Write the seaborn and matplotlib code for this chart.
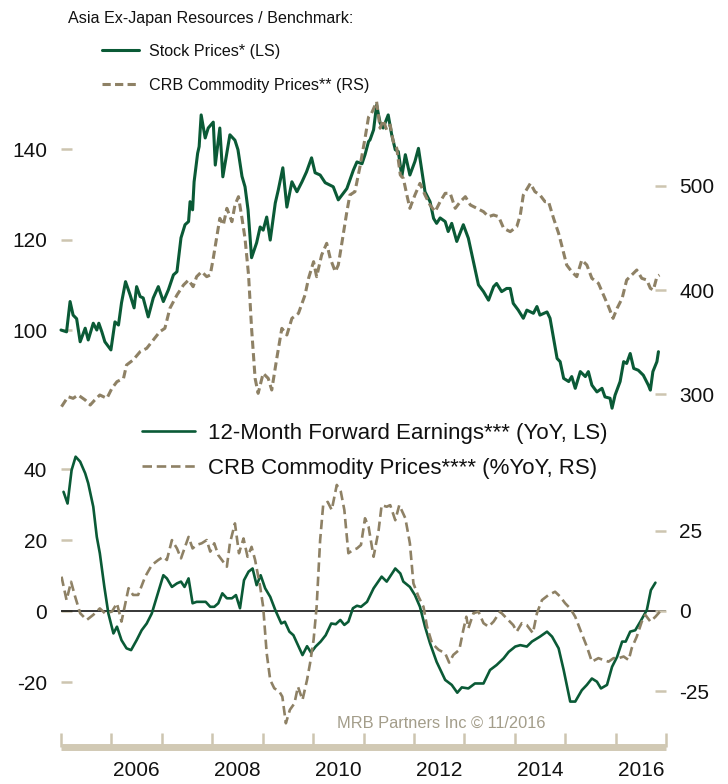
import numpy as np
import pandas as pd
import seaborn as sns
import matplotlib.pyplot as plt
from matplotlib.font_manager import FontProperties

# ---------------- data ----------------
stock_years = [2005.00, 2005.11, 2005.18, 2005.24, 2005.31, 2005.38, 2005.48, 2005.54, 2005.64, 2005.71,
               2005.75, 2005.81, 2005.87, 2005.99, 2006.07, 2006.14, 2006.20, 2006.28, 2006.37, 2006.45,
               2006.50, 2006.57, 2006.63, 2006.73, 2006.83, 2006.93, 2007.03, 2007.13, 2007.23, 2007.30,
               2007.38, 2007.46, 2007.53, 2007.56, 2007.61, 2007.64, 2007.71, 2007.74, 2007.78, 2007.86,
               2007.92, 2008.02, 2008.06, 2008.15, 2008.21, 2008.35, 2008.45, 2008.51, 2008.59, 2008.65,
               2008.71, 2008.78, 2008.88, 2008.95, 2009.01, 2009.08, 2009.15, 2009.25, 2009.31, 2009.40,
               2009.48, 2009.58, 2009.68, 2009.78, 2009.87, 2009.97, 2010.04, 2010.14, 2010.24, 2010.40,
               2010.50, 2010.67, 2010.80, 2010.87, 2010.97, 2011.03, 2011.10, 2011.13, 2011.20, 2011.26,
               2011.33, 2011.39, 2011.49, 2011.56, 2011.63, 2011.69, 2011.76, 2011.83, 2011.92, 2012.02,
               2012.09, 2012.17, 2012.22, 2012.32, 2012.39, 2012.45, 2012.52, 2012.62, 2012.68, 2012.75,
               2012.85, 2012.98, 2013.08, 2013.18, 2013.28, 2013.38, 2013.48, 2013.58, 2013.64, 2013.74,
               2013.84, 2013.91, 2013.97, 2014.07, 2014.17, 2014.24, 2014.37, 2014.44, 2014.50, 2014.64,
               2014.70, 2014.77, 2014.84, 2014.90, 2014.97, 2015.07, 2015.13, 2015.20, 2015.30, 2015.40,
               2015.46, 2015.53, 2015.63, 2015.73, 2015.79, 2015.89, 2015.93, 2015.99, 2016.09, 2016.16,
               2016.22, 2016.29, 2016.36, 2016.45, 2016.55, 2016.65, 2016.69, 2016.74, 2016.79, 2016.82,
               2016.85]
stock_vals = [100.0, 99.6, 106.3, 103.3, 102.5, 97.4, 100.4, 97.8, 101.5, 100.0,
              101.5, 99.6, 97.4, 95.6, 101.8, 101.1, 106.0, 110.7, 107.8, 104.9,
              109.6, 107.4, 107.1, 102.9, 107.1, 109.6, 106.3, 108.9, 112.2, 112.9,
              120.4, 123.3, 124.0, 128.4, 126.6, 132.8, 139.1, 140.6, 147.6, 142.5,
              144.7, 146.0, 136.5, 144.7, 133.9, 143.2, 142.0, 139.9, 134.0, 131.7,
              126.6, 116.0, 119.3, 122.8, 122.1, 125.0, 119.9, 128.1, 131.0, 135.9,
              127.2, 132.8, 130.6, 132.8, 135.0, 138.1, 134.8, 134.3, 132.6, 131.7,
              128.8, 131.3, 135.4, 137.2, 136.8, 138.8, 141.7, 142.1, 144.3, 149.8,
              145.8, 144.7, 147.6, 143.2, 139.9, 139.5, 134.0, 138.8, 134.3, 137.3,
              140.2, 134.3, 130.6, 128.4, 124.7, 123.6, 124.8, 124.0, 121.8, 123.6,
              119.6, 123.3, 120.3, 115.1, 110.0, 108.5, 106.6, 109.6, 110.3, 108.5,
              109.2, 109.2, 105.9, 104.4, 102.6, 104.4, 103.7, 105.2, 103.3, 104.0,
              102.6, 98.2, 93.7, 93.0, 89.3, 88.6, 89.7, 87.1, 90.8, 89.7,
              90.8, 87.8, 86.3, 87.1, 85.2, 84.9, 82.7, 85.6, 88.6, 93.0,
              92.6, 94.8, 91.5, 91.1, 90.0, 87.8, 86.7, 90.8, 92.2, 93.0,
              95.2]

crb_years = [2005.01, 2005.14, 2005.24, 2005.34, 2005.48, 2005.58, 2005.67, 2005.77, 2005.91, 2006.01,
             2006.11, 2006.24, 2006.30, 2006.43, 2006.57, 2006.70, 2006.83, 2006.96, 2007.06, 2007.16,
             2007.30, 2007.43, 2007.53, 2007.62, 2007.69, 2007.79, 2007.89, 2007.96, 2008.02, 2008.15,
             2008.22, 2008.29, 2008.39, 2008.45, 2008.52, 2008.59, 2008.65, 2008.72, 2008.78, 2008.85,
             2008.91, 2009.01, 2009.11, 2009.18, 2009.28, 2009.38, 2009.48, 2009.58, 2009.71, 2009.84,
             2009.91, 2010.01, 2010.07, 2010.17, 2010.27, 2010.34, 2010.44, 2010.50, 2010.57, 2010.67,
             2010.73, 2010.83, 2010.93, 2011.03, 2011.10, 2011.16, 2011.26, 2011.33, 2011.39, 2011.46,
             2011.53, 2011.59, 2011.66, 2011.73, 2011.79, 2011.86, 2011.92, 2012.02, 2012.12, 2012.22,
             2012.32, 2012.42, 2012.52, 2012.62, 2012.72, 2012.82, 2012.92, 2013.02, 2013.12, 2013.25,
             2013.38, 2013.48, 2013.58, 2013.68, 2013.78, 2013.91, 2014.04, 2014.11, 2014.17, 2014.31,
             2014.40, 2014.50, 2014.60, 2014.67, 2014.77, 2014.87, 2014.93, 2015.03, 2015.13, 2015.23,
             2015.33, 2015.43, 2015.53, 2015.66, 2015.76, 2015.86, 2015.95, 2016.03, 2016.13, 2016.22,
             2016.32, 2016.42, 2016.52, 2016.62, 2016.69, 2016.75, 2016.82, 2016.87]
crb_vals = [288.0, 297.6, 296.0, 299.2, 294.4, 289.6, 294.4, 299.2, 296.0, 305.6,
            312.0, 315.2, 328.0, 332.8, 340.8, 344.0, 352.0, 360.0, 363.2, 382.4,
            395.2, 404.8, 409.6, 403.2, 412.8, 417.6, 412.8, 414.4, 430.4, 468.8,
            462.4, 478.4, 465.6, 481.6, 489.6, 468.8, 449.6, 414.4, 363.2, 315.2,
            300.8, 320.0, 315.2, 304.0, 334.4, 363.2, 356.8, 372.8, 377.6, 395.2,
            411.2, 427.2, 412.8, 433.6, 444.8, 430.4, 417.6, 424.0, 444.8, 475.2,
            491.2, 494.4, 518.4, 545.6, 566.0, 569.7, 580.8, 555.3, 563.2, 553.6,
            558.4, 542.4, 536.0, 510.4, 507.2, 491.2, 478.4, 491.2, 502.4, 491.2,
            481.6, 475.2, 484.8, 492.8, 492.8, 478.4, 484.8, 489.6, 481.6, 478.4,
            475.2, 470.4, 472.0, 470.4, 459.2, 456.0, 460.8, 472.0, 491.2, 502.4,
            494.4, 491.2, 484.8, 484.8, 468.8, 454.4, 443.2, 424.0, 417.6, 412.8,
            428.8, 424.0, 411.2, 406.4, 395.2, 384.0, 372.8, 382.4, 392.0, 409.6,
            414.4, 419.2, 411.2, 409.6, 401.6, 400.0, 412.8, 414.4]

eps_years = [2005.05, 2005.13, 2005.21, 2005.29, 2005.38, 2005.48, 2005.54, 2005.64, 2005.71, 2005.77,
             2005.86, 2005.94, 2006.04, 2006.11, 2006.20, 2006.30, 2006.39, 2006.50, 2006.60, 2006.70,
             2006.80, 2006.90, 2007.03, 2007.10, 2007.20, 2007.30, 2007.38, 2007.45, 2007.53, 2007.61,
             2007.69, 2007.79, 2007.87, 2007.96, 2008.04, 2008.12, 2008.20, 2008.29, 2008.39, 2008.47,
             2008.55, 2008.63, 2008.72, 2008.80, 2008.88, 2008.96, 2009.05, 2009.15, 2009.25, 2009.37,
             2009.44, 2009.53, 2009.61, 2009.70, 2009.79, 2009.88, 2009.96, 2010.05, 2010.15, 2010.25,
             2010.36, 2010.45, 2010.54, 2010.62, 2010.70, 2010.79, 2010.87, 2010.95, 2011.07, 2011.20,
             2011.36, 2011.46, 2011.59, 2011.63, 2011.73, 2011.79, 2011.92, 2012.02, 2012.12, 2012.22,
             2012.32, 2012.45, 2012.62, 2012.75, 2012.86, 2012.95, 2013.08, 2013.21, 2013.38, 2013.51,
             2013.64, 2013.78, 2013.88, 2014.01, 2014.11, 2014.24, 2014.34, 2014.50, 2014.64, 2014.74,
             2014.87, 2014.97, 2015.10, 2015.20, 2015.33, 2015.43, 2015.53, 2015.63, 2015.71, 2015.83,
             2015.93, 2016.03, 2016.13, 2016.20, 2016.29, 2016.39, 2016.49, 2016.62, 2016.70, 2016.79]
eps_vals = [33.6, 30.3, 39.7, 43.5, 42.1, 38.8, 36.0, 29.4, 20.9, 16.3,
            6.8, -0.7, -6.3, -4.4, -8.2, -10.5, -11.0, -8.2, -5.4, -3.5,
            -0.7, 4.0, 10.1, 9.2, 6.8, 7.8, 8.3, 6.8, 9.2, 2.2,
            2.6, 2.6, 2.6, 1.2, 1.2, 2.2, 5.0, 3.6, 3.6, 4.5,
            0.8, 8.7, 11.1, 12.0, 7.3, 10.1, 6.4, 4.0, 0.3, -3.5,
            -3.0, -5.8, -6.8, -9.6, -12.4, -9.9, -11.7, -10.0, -8.6, -6.8,
            -3.5, -3.7, -2.5, -3.9, -3.0, 0.8, 1.5, 1.2, 2.6, 6.4,
            9.7, 8.3, 11.1, 12.0, 10.6, 8.3, 6.8, 4.5, 1.2, -4.4,
            -9.1, -14.3, -19.4, -20.8, -23.0, -21.5, -21.8, -20.4, -20.4, -16.6,
            -15.2, -13.3, -11.5, -10.0, -9.6, -10.0, -8.6, -7.2, -5.8, -7.2,
            -10.5, -16.6, -25.5, -25.5, -22.3, -20.8, -19.0, -19.9, -21.8, -20.8,
            -15.7, -12.9, -8.6, -8.6, -5.8, -5.4, -3.0, 0.3, 5.9, 8.0]

crb_yoy_years = [2005.01, 2005.11, 2005.20, 2005.28, 2005.38, 2005.51, 2005.64, 2005.77, 2005.87, 2006.01,
                 2006.11, 2006.20, 2006.34, 2006.43, 2006.53, 2006.67, 2006.80, 2006.93, 2007.03, 2007.10,
                 2007.20, 2007.30, 2007.38, 2007.46, 2007.53, 2007.61, 2007.69, 2007.79, 2007.89, 2007.96,
                 2008.04, 2008.12, 2008.19, 2008.29, 2008.35, 2008.45, 2008.53, 2008.62, 2008.70, 2008.78,
                 2008.85, 2008.95, 2009.01, 2009.08, 2009.15, 2009.23, 2009.33, 2009.39, 2009.46, 2009.54,
                 2009.63, 2009.70, 2009.79, 2009.88, 2009.94, 2010.01, 2010.07, 2010.14, 2010.20, 2010.29,
                 2010.37, 2010.47, 2010.55, 2010.62, 2010.70, 2010.79, 2010.87, 2010.95, 2011.03, 2011.10,
                 2011.20, 2011.30, 2011.36, 2011.46, 2011.53, 2011.63, 2011.71, 2011.83, 2011.92, 2011.99,
                 2012.09, 2012.19, 2012.26, 2012.36, 2012.49, 2012.62, 2012.70, 2012.78, 2012.90, 2012.98,
                 2013.04, 2013.08, 2013.18, 2013.28, 2013.38, 2013.48, 2013.58, 2013.71, 2013.84, 2013.97,
                 2014.04, 2014.14, 2014.24, 2014.36, 2014.44, 2014.54, 2014.67, 2014.80, 2014.90, 2015.00,
                 2015.10, 2015.20, 2015.30, 2015.43, 2015.53, 2015.66, 2015.76, 2015.86, 2015.96, 2016.06,
                 2016.16, 2016.26, 2016.32, 2016.42, 2016.52, 2016.59, 2016.69, 2016.79, 2016.88]
crb_yoy_vals = [10.7, 3.4, 9.1, 4.5, -0.7, -2.8, -1.2, 0.8, -0.7, -0.2,
                2.4, -3.3, 7.1, 5.0, 5.0, 10.7, 14.3, 15.9, 16.9, 15.9,
                22.1, 19.5, 16.4, 20.0, 23.1, 19.5, 20.6, 21.1, 22.1, 18.5,
                21.1, 17.4, 15.9, 13.8, 21.1, 27.3, 18.0, 22.6, 16.9, 20.0,
                15.9, 7.6, 1.3, -13.2, -21.5, -24.1, -25.1, -26.7, -35.0, -30.8,
                -28.8, -23.6, -27.7, -21.5, -16.3, -9.0, 1.3, 22.1, 33.0, 34.0,
                31.5, 39.3, 37.2, 31.5, 18.0, 19.0, 19.5, 20.6, 28.9, 26.3,
                16.9, 25.2, 33.0, 32.5, 33.0, 28.3, 33.0, 28.9, 21.1, 8.6,
                4.5, 1.3, -4.9, -10.1, -12.1, -13.2, -16.1, -13.7, -12.1, -5.9,
                -1.8, -5.4, -0.7, -0.2, -3.8, -4.9, -3.3, -0.2, -2.3, -4.4,
                -6.4, -3.8, -4.4, -6.9, -0.7, 3.4, 5.0, 6.0, 4.5, 2.4,
                0.8, -1.8, -5.9, -11.1, -15.8, -14.7, -15.3, -15.8, -14.7, -14.7,
                -14.2, -15.3, -11.6, -8.0, -3.3, -1.2, -3.3, -1.8, -0.2]

top_left_ticks = [100, 120, 140]
top_right_ticks = [300, 400, 500]
bot_left_ticks = [-20, 0, 20, 40]
bot_right_ticks = [-25, 0, 25]
year_bounds = list(range(2005, 2018))
year_label_pos = [2006.5, 2008.5, 2010.5, 2012.5, 2014.5, 2016.5]
year_labels = ['2006', '2008', '2010', '2012', '2014', '2016']

title_top = 'Asia Ex-Japan Resources / Benchmark:'
lab_stock = 'Stock Prices* (LS)'
lab_crb = 'CRB Commodity Prices** (RS)'
lab_eps = '12-Month Forward Earnings*** (YoY, LS)'
lab_crb_yoy = 'CRB Commodity Prices**** (%YoY, RS)'
credit = 'MRB Partners Inc \u00a9 11/2016'

# ---------------- style ----------------
sns.set_theme(style='white')
plt.rcParams['font.family'] = ['Liberation Sans', 'DejaVu Sans']
plt.rcParams['axes.unicode_minus'] = False

GREEN = '#0a5a36'
TAN = '#8e8165'
TICK = '#cdc5b0'
BAR = '#d1c9b4'
CREDIT = '#a39d8a'

W, H = 728, 784
fig = plt.figure(figsize=(W / 100, H / 100), dpi=100)


def fx(px):
    return px / W


def fy(py):
    return 1 - py / H


ax1 = fig.add_axes([fx(61), fy(410), (666 - 61) / W, (410 - 100) / H])
ax2 = fig.add_axes([fx(61), fy(747), (666 - 61) / W, (747 - 440) / H])
ax1.patch.set_alpha(0)
ax2.patch.set_alpha(0)

df_stock = pd.DataFrame({'year': stock_years, 'value': stock_vals})
df_crb = pd.DataFrame({'year': crb_years, 'value': crb_vals})
df_eps = pd.DataFrame({'year': eps_years, 'value': eps_vals})
df_yoy = pd.DataFrame({'year': crb_yoy_years, 'value': crb_yoy_vals})

# ---- top panel ----
sns.lineplot(data=df_stock, x='year', y='value', ax=ax1, color=GREEN, lw=2.2,
             estimator=None, legend=False, clip_on=False)
ax1r = ax1.twinx()
sns.lineplot(data=df_crb, x='year', y='value', ax=ax1r, color=TAN, lw=2.2,
             linestyle=(0, (2.7, 1.4)), estimator=None, legend=False, clip_on=False)

ax1.set_xlim(2005, 2017)
ax1.set_ylim(82.3, 150.9)
ax1r.set_ylim(284.8, 582.4)
ax1.set_yticks(top_left_ticks)
ax1r.set_yticks(top_right_ticks)
ax1.xaxis.set_visible(False)

# ---- bottom panel ----
sns.lineplot(data=df_eps, x='year', y='value', ax=ax2, color=GREEN, lw=1.9,
             estimator=None, legend=False)
ax2.axhline(0, color='black', lw=1.1, zorder=1.5)
ax2r = ax2.twinx()
sns.lineplot(data=df_yoy, x='year', y='value', ax=ax2r, color=TAN, lw=1.9,
             linestyle=(0, (3.6, 1.8)), estimator=None, legend=False)

ax2.set_xlim(2005, 2017)
ax2.set_ylim(-38.3, 48.2)
ax2r.set_ylim(-42.4, 53.3)
ax2.set_yticks(bot_left_ticks)
ax2r.set_yticks(bot_right_ticks)

ax2.set_xticks(year_bounds)
ax2.set_xticklabels([''] * len(year_bounds))
ax2.set_xticks(year_label_pos, minor=True)
ax2.set_xticklabels(year_labels, minor=True)
ax2.tick_params(axis='x', which='major', direction='in', length=10, width=1.8,
                color=TICK, labelbottom=False, bottom=True)
ax2.tick_params(axis='x', which='minor', length=0, labelsize=15, pad=9.8,
                labelcolor='#111111', bottom=True)

for a in (ax1, ax1r, ax2, ax2r):
    a.set_xlabel('')
    a.set_ylabel('')
    for s in a.spines.values():
        s.set_visible(False)

for a in (ax1, ax2):
    a.tick_params(axis='y', which='major', direction='in', length=7.9, width=1.8,
                  color=TICK, labelsize=15, pad=10, left=True, labelcolor='#111111')
for a in (ax1r, ax2r):
    a.tick_params(axis='y', which='major', direction='in', length=7.9, width=1.8,
                  color=TICK, labelsize=15, pad=9.5, right=True, labelcolor='#111111')

sp = ax2.spines['bottom']
sp.set_visible(True)
sp.set_color(BAR)
sp.set_linewidth(5.0)
sp.set_capstyle('butt')

# ---- legends and texts ----
small = FontProperties(family=['Liberation Sans', 'DejaVu Sans'], size=11.6)
fig.text(fx(68), fy(18), title_top, fontproperties=small, va='center', ha='left', color='#111111')

leg1 = fig.legend([ax1.lines[0], ax1r.lines[0]], [lab_stock, lab_crb],
                  loc='upper left', bbox_to_anchor=(fx(102), fy(44)),
                  frameon=False, prop=small, handlelength=2.32, handletextpad=0.61,
                  labelspacing=1.18, borderpad=0, borderaxespad=0)
for t in leg1.get_texts():
    t.set_color('#111111')

leg2 = fig.legend([ax2.lines[0], ax2r.lines[0]], [lab_eps, lab_crb_yoy],
                  loc='upper left', bbox_to_anchor=(fx(142), fy(423)),
                  frameon=False, prop={'size': 16}, handlelength=2.39, handletextpad=0.59,
                  labelspacing=0.63, borderpad=0, borderaxespad=0)
for t in leg2.get_texts():
    t.set_color('#111111')

fig.text(fx(337), fy(723), credit, fontsize=11.8, color=CREDIT, va='center', ha='left')

fig.savefig('out.png', dpi=100)
